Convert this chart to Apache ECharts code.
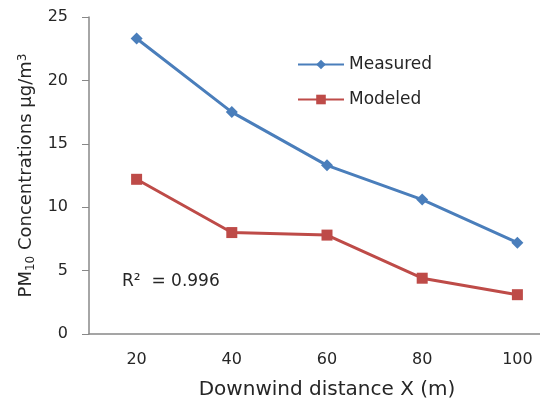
<!DOCTYPE html>
<html>
<head>
<meta charset="utf-8">
<script src="https://cdn.jsdelivr.net/npm/echarts@6/dist/echarts.min.js"></script>
<style>html,body{margin:0;padding:0;background:#fff}#c{width:540px;height:401px}</style>
</head>
<body>
<div id="c"></div>
<script>
const categories = ['20', '40', '60', '80', '100'];
const measured = [23.3, 17.5, 13.3, 10.6, 7.2];
const modeled = [12.2, 8.0, 7.8, 4.4, 3.1];
const yTicks = { min: 0, max: 25, interval: 5 };

const font = '"DejaVu Sans", sans-serif';
const txt = '#262626';
const chart = echarts.init(document.getElementById('c'), null, { renderer: 'canvas' });
chart.setOption({
  animation: false,
  backgroundColor: '#ffffff',
  grid: { left: 89, top: 17, height: 317, width: 476, containLabel: false, outerBoundsMode: 'none' },
  legend: {
    orient: 'vertical', left: 297, top: 56, padding: 0, itemWidth: 46, itemHeight: 12, itemGap: 18,
    textStyle: { fontFamily: font, fontSize: 17, color: txt },
    data: ['Measured', 'Modeled']
  },
  xAxis: {
    type: 'category', data: categories, boundaryGap: true,
    axisLine: { lineStyle: { color: '#888', width: 1.5 } },
    axisTick: { show: false },
    axisLabel: { fontFamily: font, fontSize: 16, color: txt, margin: 18 },
    name: 'Downwind distance X (m)', nameLocation: 'middle', nameGap: 46,
    nameTextStyle: { fontFamily: font, fontSize: 20, color: txt }
  },
  yAxis: {
    type: 'value', min: yTicks.min, max: yTicks.max, interval: yTicks.interval,
    splitLine: { show: false },
    axisLine: { show: true, lineStyle: { color: '#888', width: 1.5 } },
    axisTick: { show: true, length: 7, lineStyle: { color: '#888' } },
    axisLabel: { fontFamily: font, fontSize: 16, color: txt, margin: 21 },
    name: '{a|PM}{s|10}{a| Concentrations μg/m}{p|3}', nameLocation: 'middle', nameGap: 51, nameRotate: 90,
    nameTextStyle: {
      fontFamily: font, fontSize: 18, color: txt,
      rich: {
        a: { fontFamily: font, fontSize: 18, color: txt },
        s: { fontFamily: font, fontSize: 12, color: txt, verticalAlign: 'bottom', padding: [8, 0, 0, 0] },
        p: { fontFamily: font, fontSize: 12, color: txt, verticalAlign: 'top', padding: [0, 0, 8, 0] }
      }
    }
  },
  series: [
    { name: 'Measured', type: 'line', data: measured, symbol: 'diamond', symbolSize: 12,
      lineStyle: { color: '#4a7ebb', width: 3 }, itemStyle: { color: '#4a7ebb' } },
    { name: 'Modeled', type: 'line', data: modeled, symbol: 'rect', symbolSize: 11,
      lineStyle: { color: '#be4b48', width: 3 }, itemStyle: { color: '#be4b48' } }
  ],
  graphic: [{
    type: 'text', left: 122, top: 273,
    style: { text: 'R²  = 0.996', fontFamily: font, fontSize: 17, fill: txt }
  }]
});
</script>
</body>
</html>
